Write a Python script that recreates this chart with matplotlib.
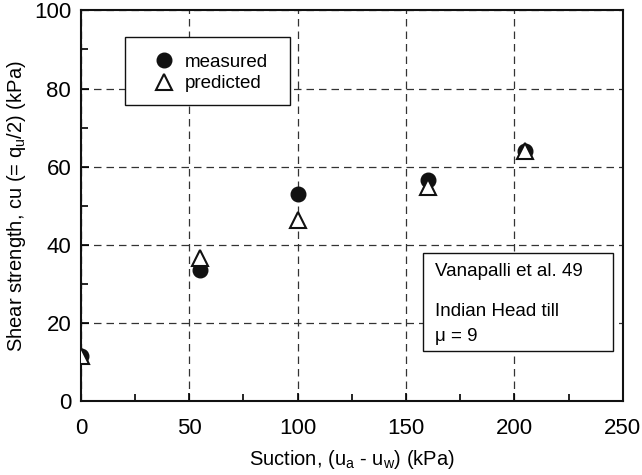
import matplotlib.pyplot as plt
from matplotlib.patches import Rectangle
from matplotlib.ticker import MultipleLocator

plt.rcParams['font.family'] = ['Liberation Sans', 'DejaVu Sans']

# suction (kPa) and undrained shear strength (kPa)
suction = [0, 55, 100, 160, 205]
measured = [11.5, 33.5, 53.0, 56.7, 64.0]
predicted = [11.5, 36.7, 46.3, 54.8, 64.0]

fig = plt.figure(figsize=(6.42, 4.75), dpi=100)
ax = fig.add_axes([0.126, 0.156, 0.844, 0.822])

ax.plot(suction, measured, 'o', color='#111111', ms=10.5, label='measured', zorder=3)
ax.plot(suction, predicted, '^', mfc='white', mec='#111111', mew=1.5, ms=11,
        label='predicted', zorder=4)

ax.set_xlim(0, 250)
ax.set_ylim(0, 100)
ax.xaxis.set_major_locator(MultipleLocator(50))
ax.xaxis.set_minor_locator(MultipleLocator(25))
ax.yaxis.set_major_locator(MultipleLocator(20))
ax.yaxis.set_minor_locator(MultipleLocator(10))
ax.tick_params(which='both', direction='in', top=False, right=False, labelsize=16)
ax.tick_params(which='major', length=6, width=1.2)
ax.tick_params(which='minor', length=5, width=1.2)
ax.tick_params(axis='x', which='major', pad=12)
ax.tick_params(axis='y', which='major', pad=7)
ax.grid(True, which='major', color='#333333', linestyle=(0, (6, 4)), linewidth=0.9)
for s in ax.spines.values():
    s.set_linewidth(1.5)
    s.set_color('#111111')

ax.set_xlabel(r'Suction, (u$_\mathregular{a}$ - u$_\mathregular{w}$) (kPa)', fontsize=14.5, labelpad=7)
ax.set_ylabel(r'Shear strength, cu (= q$_\mathregular{u}$/2) (kPa)', fontsize=14.5, labelpad=4)

# legend drawn without its own frame; box added as a patch
leg = ax.legend(loc='upper left', bbox_to_anchor=(0.105, 0.928), fontsize=13.5,
                frameon=False, handletextpad=0.5, borderpad=0.3, labelspacing=0.25,
                handlelength=1.2)
ax.add_patch(Rectangle((0.081, 0.759), 0.304, 0.172, transform=ax.transAxes,
                       fc='white', ec='#111111', lw=1.0, zorder=5))
leg.set_zorder(6)

# annotation box
ax.add_patch(Rectangle((0.631, 0.128), 0.351, 0.251, transform=ax.transAxes,
                       fc='white', ec='#111111', lw=1.0, zorder=5))
for y, txt in [(0.331, 'Vanapalli et al. 49'), (0.228, 'Indian Head till'), (0.164, '\u03bc = 9')]:
    ax.text(0.653, y, txt, transform=ax.transAxes, fontsize=13.5, va='center', ha='left', zorder=6)

fig.savefig('out.png', dpi=100)
